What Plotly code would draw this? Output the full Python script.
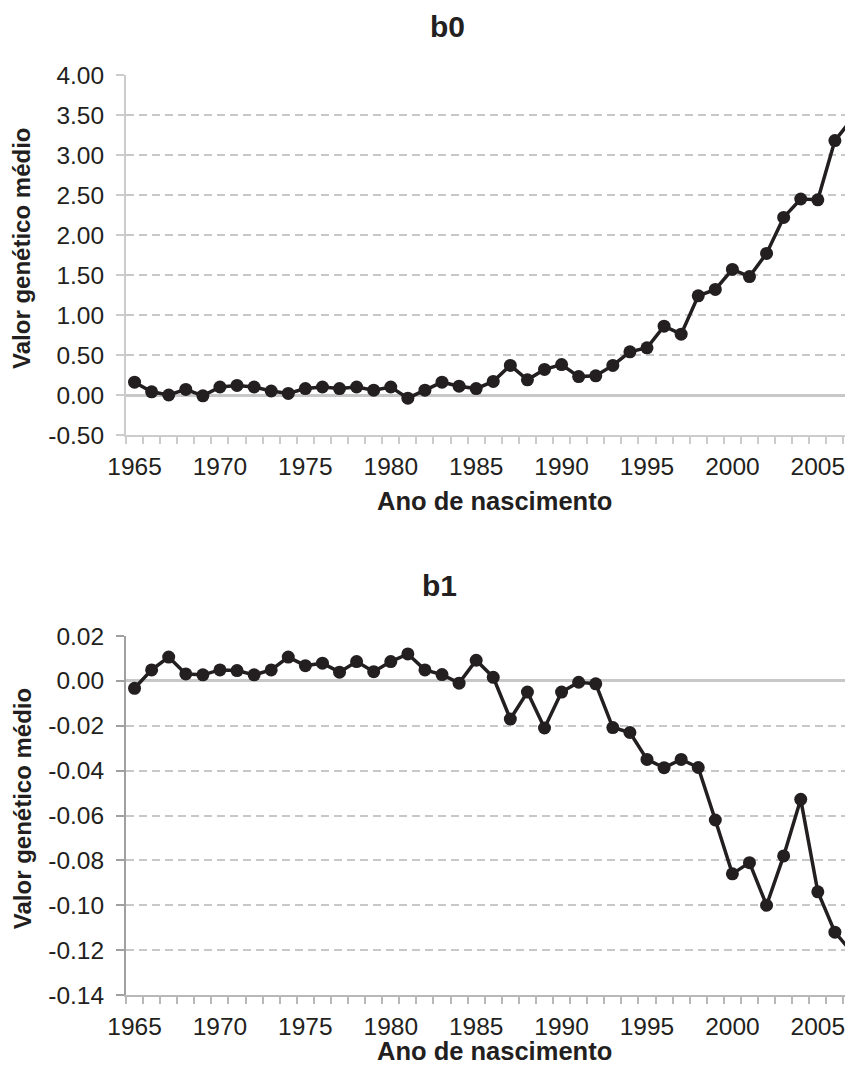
import plotly.graph_objects as go
from plotly.subplots import make_subplots

# Anos de nascimento
anos = list(range(1965, 2008))

# b0 - valor genetico medio
b0 = [0.16, 0.04, 0.00, 0.07, -0.01, 0.10, 0.12, 0.10, 0.05, 0.02,
      0.08, 0.10, 0.08, 0.10, 0.06, 0.10, -0.04, 0.06, 0.16, 0.11,
      0.08, 0.17, 0.37, 0.19, 0.32, 0.38, 0.23, 0.24, 0.37, 0.54,
      0.59, 0.86, 0.76, 1.24, 1.32, 1.57, 1.48, 1.77, 2.22, 2.45,
      2.44, 3.18, 3.45]

# b1 - valor genetico medio
b1 = [-0.0033, 0.0049, 0.0106, 0.0031, 0.0027, 0.0049, 0.0046, 0.0027, 0.0049, 0.0106,
      0.0068, 0.0079, 0.0039, 0.0086, 0.0041, 0.0086, 0.0120, 0.0049, 0.0028, -0.0010,
      0.0092, 0.0016, -0.0170, -0.0050, -0.0210, -0.0050, -0.0006, -0.0013, -0.0208, -0.0230,
      -0.0350, -0.0387, -0.0350, -0.0386, -0.0620, -0.0860, -0.0810, -0.1000, -0.0780, -0.0528,
      -0.0940, -0.1120, -0.1210]

b0_ticks = [-0.5, 0.0, 0.5, 1.0, 1.5, 2.0, 2.5, 3.0, 3.5, 4.0]
b1_ticks = [-0.14, -0.12, -0.10, -0.08, -0.06, -0.04, -0.02, 0.00, 0.02]
anos_labels = [1965, 1970, 1975, 1980, 1985, 1990, 1995, 2000, 2005]

INK = '#231f20'
FONT = 'Liberation Sans, Arial, sans-serif'

fig = make_subplots(rows=2, cols=1, vertical_spacing=0.2)

for serie, row in ((b0, 1), (b1, 2)):
    fig.add_trace(
        go.Scatter(x=anos, y=serie, mode='lines+markers',
                   line=dict(color=INK, width=3.5),
                   marker=dict(color=INK, size=13),
                   showlegend=False),
        row=row, col=1
    )

xaxis_style = dict(
    range=[1964.5, 2007.06], automargin=False,
    tickmode='array', tickvals=anos_labels, ticktext=[str(a) for a in anos_labels],
    ticks='', showgrid=False, zeroline=False,
    showline=True, linewidth=2,
    tickfont=dict(size=24.5, color=INK, family=FONT),
    ticklabelstandoff=9,
    minor=dict(ticks='outside', ticklen=7, tickwidth=1.5,
               tickvals=[1964.5 + i for i in range(44)], showgrid=False),
)
fig.update_xaxes(**xaxis_style)
fig.update_xaxes(linecolor='#cccccc', minor_tickcolor='#cccccc', row=1, col=1)
fig.update_xaxes(linecolor='#b8b8b8', minor_tickcolor='#b8b8b8', row=2, col=1)

yaxis_style = dict(
    automargin=False,
    tickmode='array', ticks='outside', ticklen=8, tickwidth=1.5,
    showgrid=True, gridcolor='#c8c8c8', gridwidth=1.5, griddash='8px,5px',
    zeroline=True, zerolinecolor='#c8c8c8', zerolinewidth=2.5,
    showline=True, linewidth=2,
    tickfont=dict(size=24.5, color=INK, family=FONT),
    ticklabelstandoff=7,
)
fig.update_yaxes(**yaxis_style)
fig.update_yaxes(range=[-0.5, 4.0], tickvals=b0_ticks,
                 ticktext=['%.2f' % v for v in b0_ticks],
                 linecolor='#cccccc', tickcolor='#cccccc', row=1, col=1)
fig.update_yaxes(range=[-0.14, 0.02], tickvals=b1_ticks,
                 ticktext=['%.2f' % v for v in b1_ticks],
                 linecolor='#a0a0a0', tickcolor='#a0a0a0', row=2, col=1)

# plot areas: 727 x 360 px each, 201 px apart
fig.update_layout(
    xaxis=dict(domain=[0, 1], anchor='y'),
    yaxis=dict(domain=[0.6087, 1.0]),
    xaxis2=dict(domain=[0, 1], anchor='y2'),
    yaxis2=dict(domain=[0.0, 0.3902]),
)


def texto(txt, x, y, size, angle=0):
    fig.add_annotation(text='<b>%s</b>' % txt, xref='paper', yref='paper',
                       x=x, y=y, xanchor='center', yanchor='middle',
                       showarrow=False, textangle=angle,
                       font=dict(size=size, color=INK, family=FONT))


# titulos e eixos
texto('b0', 0.442, 1.053, 30)
texto('b1', 0.431, 0.445, 30)
texto('Ano de nascimento', 0.507, 0.537, 25.5)
texto('Ano de nascimento', 0.507, -0.061, 25.5)
texto('Valor genético médio', -0.143, 0.811, 24, -90)
texto('Valor genético médio', -0.143, 0.202, 24, -90)

# the page body adds an 8px offset; keep the page from overflowing vertically
fig.update_layout(
    width=845, height=1057,
    margin=dict(l=118, r=0, t=67, b=70),
    plot_bgcolor='white', paper_bgcolor='white',
    font=dict(family=FONT, color=INK),
)

fig.write_html("out.html")
